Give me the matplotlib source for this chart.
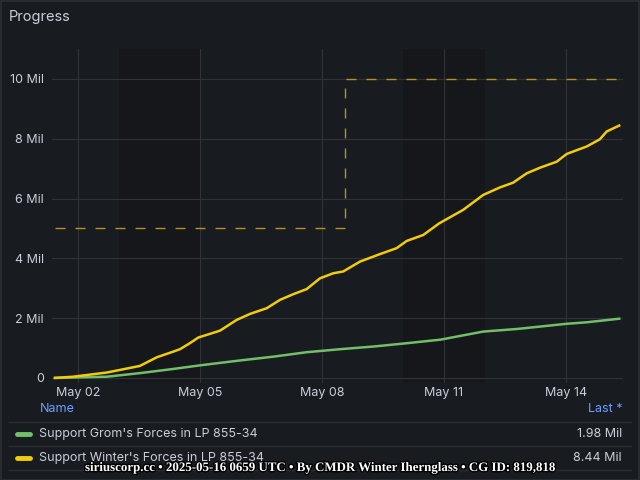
import matplotlib
matplotlib.use("Agg")
import matplotlib.pyplot as plt
import matplotlib.dates as mdates
import matplotlib.patheffects as pe
import pandas as pd

# ---------------- data ----------------
winter_times = ["2025-05-01 10:25", "2025-05-01 21:00", "2025-05-02 17:00", "2025-05-03 12:30",
                "2025-05-03 22:30", "2025-05-04 08:15", "2025-05-04 12:10", "2025-05-04 18:00",
                "2025-05-04 23:00", "2025-05-05 11:47", "2025-05-05 21:39", "2025-05-06 05:30",
                "2025-05-06 15:22", "2025-05-06 23:12", "2025-05-07 07:03", "2025-05-07 14:57",
                "2025-05-07 22:48", "2025-05-08 06:39", "2025-05-08 12:33", "2025-05-08 22:25",
                "2025-05-09 10:13", "2025-05-09 20:04", "2025-05-10 01:58", "2025-05-10 11:46",
                "2025-05-10 21:13", "2025-05-11 11:20", "2025-05-11 23:10", "2025-05-12 09:00",
                "2025-05-12 16:50", "2025-05-13 00:45", "2025-05-13 08:40", "2025-05-13 18:30",
                "2025-05-14 00:25", "2025-05-14 12:15", "2025-05-14 20:00", "2025-05-15 00:00",
                "2025-05-15 07:25"]
winter_vals = [0.0, 0.04, 0.18, 0.40, 0.69, 0.88, 0.96, 1.16, 1.35, 1.58, 1.94, 2.14,
               2.33, 2.61, 2.80, 2.97, 3.33, 3.50, 3.56, 3.89, 4.14, 4.34, 4.58, 4.78,
               5.17, 5.62, 6.12, 6.37, 6.53, 6.84, 7.03, 7.23, 7.49, 7.74, 7.98, 8.24, 8.44]

grom_times = ["2025-05-01 10:25", "2025-05-02 17:00", "2025-05-03 12:30", "2025-05-04 08:15",
              "2025-05-05 00:00", "2025-05-05 23:00", "2025-05-06 19:15", "2025-05-07 15:00",
              "2025-05-08 10:35", "2025-05-09 06:30", "2025-05-10 02:00", "2025-05-10 22:00",
              "2025-05-11 23:10", "2025-05-12 19:40", "2025-05-14 00:25", "2025-05-14 12:15",
              "2025-05-15 07:25"]
grom_vals = [0.0, 0.04, 0.16, 0.30, 0.42, 0.58, 0.71, 0.86, 0.96, 1.05, 1.16, 1.28,
             1.55, 1.64, 1.81, 1.86, 1.98]

threshold_times = ["2025-05-01 10:25", "2025-05-08 13:33", "2025-05-15 07:25"]
threshold_vals = [5.0, 10.0, 10.0]

weekends = [("2025-05-03", "2025-05-05"), ("2025-05-10", "2025-05-12")]

series_names = ["Support Grom's Forces in LP 855-34", "Support Winter's Forces in LP 855-34"]
last_labels = ["1.98 Mil", "8.44 Mil"]
yticks = [0, 2, 4, 6, 8, 10]
ytick_labels = ["0", "2 Mil", "4 Mil", "6 Mil", "8 Mil", "10 Mil"]
xticks = ["2025-05-02", "2025-05-05", "2025-05-08", "2025-05-11", "2025-05-14"]
xtick_labels = ["May 02", "May 05", "May 08", "May 11", "May 14"]
footer = "siriuscorp.cc \u2022 2025-05-16 0659 UTC \u2022 By CMDR Winter Ihernglass \u2022 CG ID: 819,818"

# ---------------- style ----------------
BG = "#181b1f"
GRID = "#2f3237"
TXT = "#ccccdc"
GREEN = "#73bf69"
YELLOW = "#f2cc0c"
THRESH = "#b8902a"
BLUE = "#6e9fff"

plt.rcParams["font.family"] = ["Inter", "DejaVu Sans"]

W, H = 640, 480
fig = plt.figure(figsize=(6.4, 4.8), dpi=100, facecolor=BG)

border = plt.Rectangle((0.5 / W, 0.5 / H), 1 - 1.5 / W, 1 - 1.5 / H, transform=fig.transFigure,
                       fill=False, edgecolor="#2c2f35", linewidth=1.2)
fig.patches.append(border)

fig.text(9 / W, 1 - 17 / H, "Progress", color=TXT, fontsize=10.5, va="center", ha="left")

ax_l, ax_r, ax_t, ax_b = 52, 623, 49, 383
ax = fig.add_axes([ax_l / W, 1 - ax_b / H, (ax_r - ax_l) / W, (ax_b - ax_t) / H])
ax.set_facecolor(BG)

def dt(s):
    return mdates.date2num(pd.Timestamp(s))

for a, b in weekends:
    ax.axvspan(dt(a), dt(b), color="#15171a", zorder=0, lw=0)

wt = [dt(t) for t in winter_times]
gt = [dt(t) for t in grom_times]
tt = [dt(t) for t in threshold_times]

ax.step(tt, threshold_vals, where="post", color=THRESH, lw=1.0, ls=(0, (7.2, 7.2)), zorder=2)
ax.plot(gt, grom_vals, color=GREEN, lw=1.8, zorder=3)
ax.plot(wt, winter_vals, color=YELLOW, lw=1.8, zorder=4)

ax.set_xlim(dt("2025-05-01 08:40"), dt("2025-05-15 09:40"))
ax.set_ylim(-0.17, 11.0)
ax.set_yticks(yticks)
ax.set_yticklabels(ytick_labels)
ax.set_xticks([dt(t) for t in xticks])
ax.set_xticklabels(xtick_labels)
ax.grid(True, color=GRID, lw=0.8)
ax.set_axisbelow(True)
for s in ax.spines.values():
    s.set_visible(False)
ax.tick_params(axis="both", length=0, colors=TXT, labelsize=9)
ax.tick_params(axis="x", pad=3)
ax.tick_params(axis="y", pad=6)

# legend table
fig.text(40 / W, 1 - 409 / H, "Name", color=BLUE, fontsize=9, va="center", ha="left")
fig.text(622 / W, 1 - 409 / H, "Last *", color=BLUE, fontsize=9, va="center", ha="right")
for yy in (422, 446, 470):
    fig.add_artist(plt.Line2D([9 / W, 631 / W], [1 - yy / H, 1 - yy / H], color="#2a2d32", lw=1))
for i, (name, last, col) in enumerate(zip(series_names, last_labels, [GREEN, YELLOW])):
    y = 1 - (434 + 24 * i) / H
    fig.add_artist(plt.Line2D([17 / W, 30 / W], [y, y], color=col, lw=3.5, solid_capstyle="round"))
    fig.text(39 / W, y, name, color=TXT, fontsize=9, va="center", ha="left")
    fig.text(622 / W, y, last, color=TXT, fontsize=9, va="center", ha="right")

fig.text(320 / W, 1 - 468 / H, footer, color="white", fontsize=9.3, fontweight="bold",
         family="Liberation Serif", ha="center", va="center",
         path_effects=[pe.withStroke(linewidth=2, foreground="black")])

fig.savefig("out.png", dpi=100, facecolor=BG)
